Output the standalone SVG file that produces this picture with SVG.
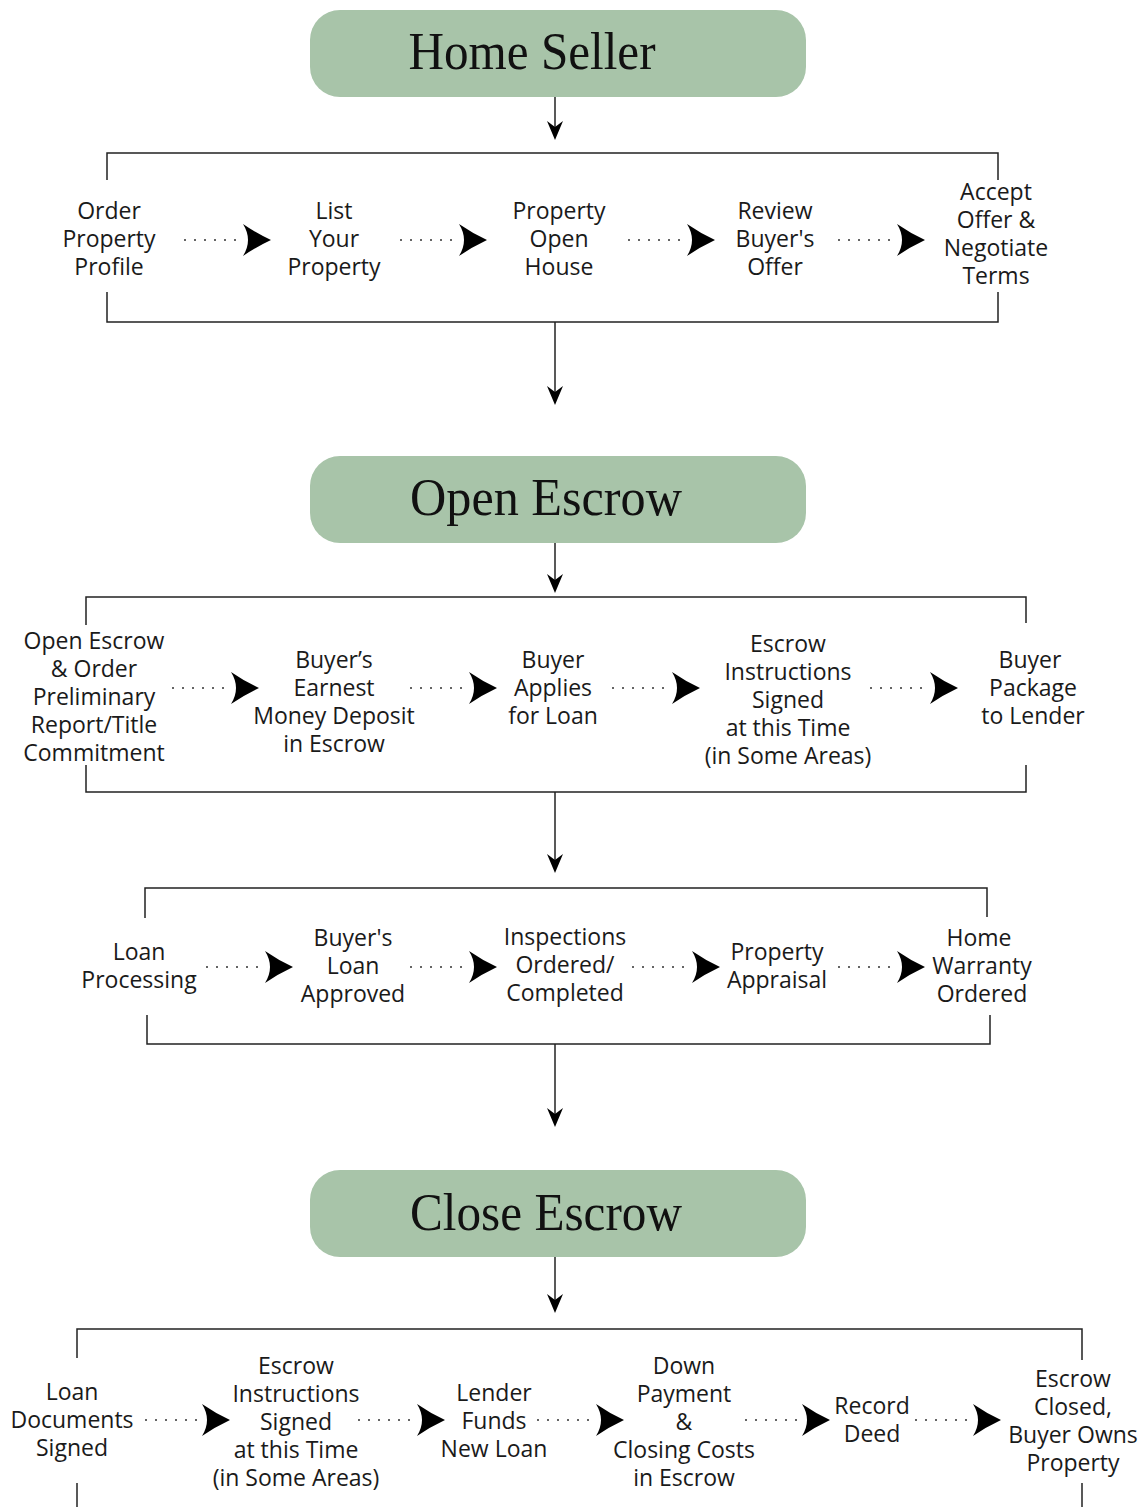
<svg xmlns="http://www.w3.org/2000/svg" xmlns:xlink="http://www.w3.org/1999/xlink" width="1143" height="1507" viewBox="0 0 1143 1507">
<style>
.hdr{fill:#a8c4a9}
.ht{font-family:"Liberation Serif","Times New Roman",serif;font-size:52px;fill:#111;text-anchor:middle}
.t{font-family:"Open Sans","Noto Sans",sans-serif;font-size:23px;fill:#1a1a1a;text-anchor:middle}
.ln{fill:none;stroke:#222;stroke-width:1.5}
.dot{fill:none;stroke:#333;stroke-width:1.6;stroke-dasharray:2 8}
.ah{fill:#000}
</style>
<defs>
<path id="dart" d="M0,0 Q-15,-7 -28,-16 Q-23,-8 -23,0 Q-23,8 -28,16 Q-15,7 0,0 Z"/>
<path id="vdart" d="M0,0 L-8,-19 L0,-13 L8,-19 Z"/>
</defs>

<rect width="1143" height="1507" fill="#fff"/>

<g id="hdr-home-seller">
<rect class="hdr" x="310" y="10" width="496" height="87" rx="30"/>
<text class="ht" x="532" y="69" textLength="247" lengthAdjust="spacingAndGlyphs">Home Seller</text>
</g>
<g id="hdr-open-escrow">
<rect class="hdr" x="310" y="456" width="496" height="87" rx="30"/>
<text class="ht" x="546" y="515" textLength="272" lengthAdjust="spacingAndGlyphs">Open Escrow</text>
</g>
<g id="hdr-close-escrow">
<rect class="hdr" x="310" y="1170" width="496" height="87" rx="30"/>
<text class="ht" x="546" y="1230" textLength="272" lengthAdjust="spacingAndGlyphs">Close Escrow</text>
</g>

<g id="connectors">
<path class="ln" d="M555,97 V130"/><use href="#vdart" class="ah" x="555" y="140"/>
<path class="ln" d="M555,322 V395"/><use href="#vdart" class="ah" x="555" y="405"/>
<path class="ln" d="M555,543 V583"/><use href="#vdart" class="ah" x="555" y="593"/>
<path class="ln" d="M555,792 V863"/><use href="#vdart" class="ah" x="555" y="873"/>
<path class="ln" d="M555,1044 V1117"/><use href="#vdart" class="ah" x="555" y="1127"/>
<path class="ln" d="M555,1257 V1303"/><use href="#vdart" class="ah" x="555" y="1313"/>

<path class="ln" d="M107,180 V153 H998 V180"/>
<path class="ln" d="M107,292 V322 H998 V292"/>
<path class="ln" d="M86,625 V597 H1026 V623"/>
<path class="ln" d="M86,765 V792 H1026 V765"/>
<path class="ln" d="M145,918 V888 H987 V917"/>
<path class="ln" d="M147,1015 V1044 H990 V1015"/>
<path class="ln" d="M77,1358 V1329 H1082 V1360"/>
<path class="ln" d="M77,1483 V1507"/>
<path class="ln" d="M1082,1483 V1507"/>

<path class="dot" d="M184,240 H242"/><use href="#dart" class="ah" x="271" y="240"/>
<path class="dot" d="M400,240 H458"/><use href="#dart" class="ah" x="487" y="240"/>
<path class="dot" d="M628,240 H686"/><use href="#dart" class="ah" x="715" y="240"/>
<path class="dot" d="M838,240 H896"/><use href="#dart" class="ah" x="925" y="240"/>

<path class="dot" d="M172,688 H230"/><use href="#dart" class="ah" x="259" y="688"/>
<path class="dot" d="M410,688 H468"/><use href="#dart" class="ah" x="497" y="688"/>
<path class="dot" d="M612,688 H670"/><use href="#dart" class="ah" x="700" y="688"/>
<path class="dot" d="M870,688 H928"/><use href="#dart" class="ah" x="958" y="688"/>

<path class="dot" d="M206,967 H264"/><use href="#dart" class="ah" x="293" y="967"/>
<path class="dot" d="M410,967 H468"/><use href="#dart" class="ah" x="497" y="967"/>
<path class="dot" d="M632,967 H690"/><use href="#dart" class="ah" x="720" y="967"/>
<path class="dot" d="M838,967 H895"/><use href="#dart" class="ah" x="925" y="967"/>

<path class="dot" d="M145,1420 H201"/><use href="#dart" class="ah" x="230" y="1420"/>
<path class="dot" d="M358,1420 H415"/><use href="#dart" class="ah" x="445" y="1420"/>
<path class="dot" d="M537,1420 H594"/><use href="#dart" class="ah" x="624" y="1420"/>
<path class="dot" d="M745,1420 H801"/><use href="#dart" class="ah" x="830" y="1420"/>
<path class="dot" d="M915,1420 H972"/><use href="#dart" class="ah" x="1001" y="1420"/>
</g>

<g id="n-order-profile"><text class="t" x="109" y="219"><tspan x="109">Order</tspan><tspan x="109" dy="28">Property</tspan><tspan x="109" dy="28">Profile</tspan></text></g>
<g id="n-list-property"><text class="t" x="334" y="219"><tspan x="334">List</tspan><tspan x="334" dy="28">Your</tspan><tspan x="334" dy="28">Property</tspan></text></g>
<g id="n-open-house"><text class="t" x="559" y="219"><tspan x="559">Property</tspan><tspan x="559" dy="28">Open</tspan><tspan x="559" dy="28">House</tspan></text></g>
<g id="n-review-offer"><text class="t" x="775" y="219"><tspan x="775">Review</tspan><tspan x="775" dy="28">Buyer's</tspan><tspan x="775" dy="28">Offer</tspan></text></g>
<g id="n-accept-offer"><text class="t" x="996" y="200"><tspan x="996">Accept</tspan><tspan x="996" dy="28">Offer &amp;</tspan><tspan x="996" dy="28">Negotiate</tspan><tspan x="996" dy="28">Terms</tspan></text></g>

<g id="n-open-escrow-order"><text class="t" x="94" y="649"><tspan x="94">Open Escrow</tspan><tspan x="94" dy="28">&amp; Order</tspan><tspan x="94" dy="28">Preliminary</tspan><tspan x="94" dy="28">Report/Title</tspan><tspan x="94" dy="28">Commitment</tspan></text></g>
<g id="n-earnest-money"><text class="t" x="334" y="668"><tspan x="334">Buyer’s</tspan><tspan x="334" dy="28">Earnest</tspan><tspan x="334" dy="28">Money Deposit</tspan><tspan x="334" dy="28">in Escrow</tspan></text></g>
<g id="n-applies-loan"><text class="t" x="553" y="668"><tspan x="553">Buyer</tspan><tspan x="553" dy="28">Applies</tspan><tspan x="553" dy="28">for Loan</tspan></text></g>
<g id="n-escrow-instructions-1"><text class="t" x="788" y="652"><tspan x="788">Escrow</tspan><tspan x="788" dy="28">Instructions</tspan><tspan x="788" dy="28">Signed</tspan><tspan x="788" dy="28">at this Time</tspan><tspan x="788" dy="28">(in Some Areas)</tspan></text></g>
<g id="n-package-lender"><text class="t" x="1032" y="668"><tspan x="1030">Buyer</tspan><tspan x="1033" dy="28">Package</tspan><tspan x="1033" dy="28">to Lender</tspan></text></g>

<g id="n-loan-processing"><text class="t" x="139" y="960"><tspan x="139">Loan</tspan><tspan x="139" dy="28">Processing</tspan></text></g>
<g id="n-loan-approved"><text class="t" x="353" y="946"><tspan x="353">Buyer's</tspan><tspan x="353" dy="28">Loan</tspan><tspan x="353" dy="28">Approved</tspan></text></g>
<g id="n-inspections"><text class="t" x="565" y="945"><tspan x="565">Inspections</tspan><tspan x="565" dy="28">Ordered/</tspan><tspan x="565" dy="28">Completed</tspan></text></g>
<g id="n-appraisal"><text class="t" x="777" y="960"><tspan x="777">Property</tspan><tspan x="777" dy="28">Appraisal</tspan></text></g>
<g id="n-home-warranty"><text class="t" x="980" y="946"><tspan x="979">Home</tspan><tspan x="982" dy="28">Warranty</tspan><tspan x="982" dy="28">Ordered</tspan></text></g>

<g id="n-loan-documents"><text class="t" x="72" y="1400"><tspan x="72">Loan</tspan><tspan x="72" dy="28">Documents</tspan><tspan x="72" dy="28">Signed</tspan></text></g>
<g id="n-escrow-instructions-2"><text class="t" x="296" y="1374"><tspan x="296">Escrow</tspan><tspan x="296" dy="28">Instructions</tspan><tspan x="296" dy="28">Signed</tspan><tspan x="296" dy="28">at this Time</tspan><tspan x="296" dy="28">(in Some Areas)</tspan></text></g>
<g id="n-lender-funds"><text class="t" x="494" y="1401"><tspan x="494">Lender</tspan><tspan x="494" dy="28">Funds</tspan><tspan x="494" dy="28">New Loan</tspan></text></g>
<g id="n-down-payment"><text class="t" x="684" y="1374"><tspan x="684">Down</tspan><tspan x="684" dy="28">Payment</tspan><tspan x="684" dy="28">&amp;</tspan><tspan x="684" dy="28">Closing Costs</tspan><tspan x="684" dy="28">in Escrow</tspan></text></g>
<g id="n-record-deed"><text class="t" x="872" y="1414"><tspan x="872">Record</tspan><tspan x="872" dy="28">Deed</tspan></text></g>
<g id="n-escrow-closed"><text class="t" x="1073" y="1387"><tspan x="1073">Escrow</tspan><tspan x="1073" dy="28">Closed,</tspan><tspan x="1073" dy="28">Buyer Owns</tspan><tspan x="1073" dy="28">Property</tspan></text></g>
</svg>
